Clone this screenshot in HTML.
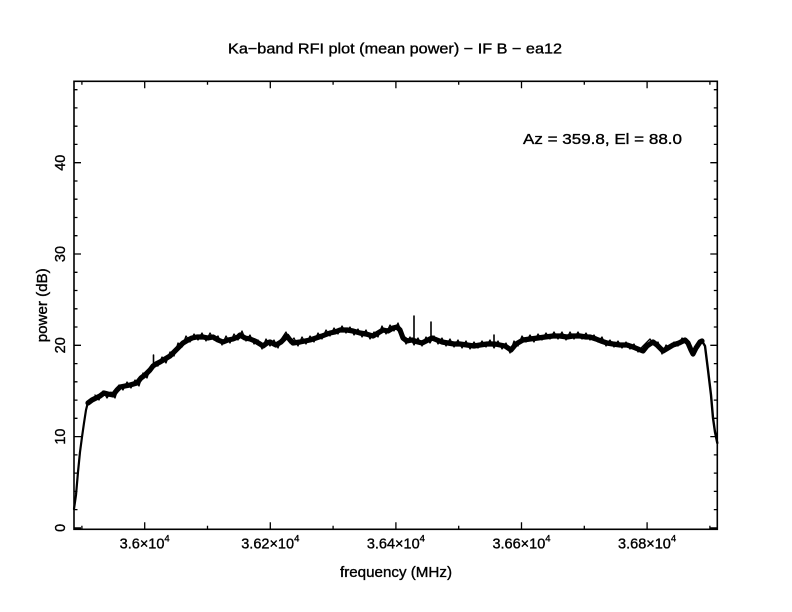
<!DOCTYPE html>
<html>
<head>
<meta charset="utf-8">
<style>
html,body{margin:0;padding:0;background:#fff;}
svg{display:block;}
text{font-family:"Liberation Sans",sans-serif;fill:#000;stroke:#000;stroke-width:0.35;}
</style>
</head>
<body>
<svg width="792" height="612" viewBox="0 0 792 612" xmlns="http://www.w3.org/2000/svg">
<rect x="0" y="0" width="792" height="612" fill="#fff"/>

<!-- title -->
<text x="228" y="53.5" font-size="14.5" textLength="334" lengthAdjust="spacingAndGlyphs">Ka−band RFI plot (mean power) − IF B − ea12</text>

<!-- annotation -->
<text x="523" y="144" font-size="14.5" textLength="159" lengthAdjust="spacingAndGlyphs">Az = 359.8, El = 88.0</text>

<!-- frame -->
<rect x="74" y="81.3" width="643.3" height="448" fill="none" stroke="#000" stroke-width="1.6"/>

<g stroke="#000" stroke-width="1.3">
<path d="M144.7 529.3v-7 M270.3 529.3v-7 M395.9 529.3v-7 M521.5 529.3v-7 M647.1 529.3v-7
M144.7 81.3v7 M270.3 81.3v7 M395.9 81.3v7 M521.5 81.3v7 M647.1 81.3v7"/>
<path d="M81.9 529.3v-3.5 M207.5 529.3v-3.5 M333.1 529.3v-3.5 M458.7 529.3v-3.5 M584.3 529.3v-3.5 M709.9 529.3v-3.5
M81.9 81.3v3.5 M207.5 81.3v3.5 M333.1 81.3v3.5 M458.7 81.3v3.5 M584.3 81.3v3.5 M709.9 81.3v3.5"/>
<path d="M74 527.9h7 M74 436.6h7 M74 345.3h7 M74 254h7 M74 162.7h7
M717.3 527.9h-7 M717.3 436.6h-7 M717.3 345.3h-7 M717.3 254h-7 M717.3 162.7h-7"/>
<path d="M74 509.6h3.5 M74 491.4h3.5 M74 473.1h3.5 M74 454.9h3.5 M74 418.3h3.5 M74 400.1h3.5 M74 381.8h3.5 M74 363.6h3.5 M74 327h3.5 M74 308.8h3.5 M74 290.5h3.5 M74 272.3h3.5 M74 235.7h3.5 M74 217.5h3.5 M74 199.2h3.5 M74 181h3.5 M74 144.4h3.5 M74 126.2h3.5 M74 107.9h3.5 M74 89.7h3.5
M717.3 509.6h-3.5 M717.3 491.4h-3.5 M717.3 473.1h-3.5 M717.3 454.9h-3.5 M717.3 418.3h-3.5 M717.3 400.1h-3.5 M717.3 381.8h-3.5 M717.3 363.6h-3.5 M717.3 327h-3.5 M717.3 308.8h-3.5 M717.3 290.5h-3.5 M717.3 272.3h-3.5 M717.3 235.7h-3.5 M717.3 217.5h-3.5 M717.3 199.2h-3.5 M717.3 181h-3.5 M717.3 144.4h-3.5 M717.3 126.2h-3.5 M717.3 107.9h-3.5 M717.3 89.7h-3.5"/>
</g>

<g font-size="14.5" text-anchor="middle">
<text x="144.7" y="548.5">3.6×10<tspan font-size="9.5" dy="-7">4</tspan></text>
<text x="270.3" y="548.5">3.62×10<tspan font-size="9.5" dy="-7">4</tspan></text>
<text x="395.9" y="548.5">3.64×10<tspan font-size="9.5" dy="-7">4</tspan></text>
<text x="521.5" y="548.5">3.66×10<tspan font-size="9.5" dy="-7">4</tspan></text>
<text x="647.1" y="548.5">3.68×10<tspan font-size="9.5" dy="-7">4</tspan></text>
</g>

<text x="340" y="577" font-size="14.5" textLength="112" lengthAdjust="spacingAndGlyphs">frequency (MHz)</text>

<g font-size="14.5" text-anchor="middle">
<text transform="translate(65,527.9) rotate(-90)">0</text>
<text transform="translate(65,436.6) rotate(-90)">10</text>
<text transform="translate(65,345.3) rotate(-90)">20</text>
<text transform="translate(65,254) rotate(-90)">30</text>
<text transform="translate(65,162.7) rotate(-90)">40</text>
</g>

<text transform="translate(47,305.3) rotate(-90)" font-size="14.5" text-anchor="middle" textLength="74" lengthAdjust="spacingAndGlyphs">power (dB)</text>

<g fill="none" stroke="#000" stroke-linejoin="round" stroke-linecap="round">
<path stroke-width="2.2" d="M74 509 L76 495 L78 472 L80 452 L82 437 L84 423 L86 410 L87.5 404 L90 401"/>
<path stroke-width="2.4" d="M702 341 L705 346 L708 370 L711 395 L713 418 L715 432 L717.3 443"/>
<path stroke-width="5.2" d="M88 403 L92 400 L96 398 L100 396 L104 393 L108 394 L113 395 L117 390 L120 387 L125 386 L130 385 L137 383 L141 378 L145 375 L150 370 L153 366 L156 364 L160 362 L165 359 L170 356 L175 351 L180 346 L183 343 L188 340 L192 338 L197 337 L203 337 L208 338 L213 337 L218 340 L223 342 L228 340 L233 339 L238 337 L240 335 L245 338 L250 339 L255 341 L260 344 L263 346 L267 343 L270 342 L276 345 L281 342 L287 336 L290 340 L293 343 L300 342 L305 341 L310 340 L316 338 L322 336 L330 333 L335 332 L340 330 L347 330 L353 331 L360 333 L366 334 L373 336 L378 333 L383 330 L388 331 L393 328 L397 327 L400 330 L403 338 L407 341 L412 340 L418 342 L422 343 L426 341 L432 338 L437 340 L442 342 L448 343 L454 344 L460 344 L467 345 L474 346 L480 345 L487 344 L495 344 L500 345 L505 346 L511 350 L516 344 L523 340 L530 339 L538 338 L545 337 L553 336 L560 336 L567 337 L573 336 L580 336 L586 337 L590 337 L596 339 L601 341 L607 343 L613 344 L620 345 L627 345 L633 347 L638 349 L643 351 L647 346 L653 342 L657 345 L663 351 L668 348 L673 345 L679 343 L685 340 L688 343 L691 350 L693 354 L696 348 L700 342 L702 341"/>
<path stroke-width="1.3" d="M95 395 L99 400 L103 391 L107 398 L111 392 L115 398 L119 385 L123 390 L127 382 L131 388 L135 380 L139 386 L143 373 L147 378 L151 366 L158 366 L162 357 L166 363 L170 352 L174 356 L178 343 L182 347 L186 336 L190 342 L194 334 L198 340 L202 333 L206 341 L210 333 L214 340 L218 336 L222 345 L226 336 L230 343 L234 334 L238 340 L242 331 L246 341 L250 335 L254 344 L258 340 L262 349 L266 339 L270 346 L274 340 L278 348 L282 338 L286 332 L290 343 L294 338 L298 346 L302 337 L306 344 L310 336 L314 342 L318 333 L322 339 L326 330 L330 336 L334 328 L338 334 L342 326 L346 333 L350 327 L354 335 L358 329 L362 337 L366 330 L370 339 L374 332 L378 337 L382 326 L386 334 L390 325 L394 331 L398 323 L402 334 L406 344 L410 337 L414 345 L418 338 L422 346 L426 337 L430 343 L434 336 L438 344 L442 338 L446 346 L450 339 L454 347 L458 340 L462 348 L466 341 L470 349 L474 342 L478 348 L482 341 L486 347 L490 340 L494 348 L498 341 L502 349 L506 343 L510 353 L514 341 L518 346 L522 336 L526 342 L530 335 L534 342 L538 334 L542 340 L546 333 L550 339 L554 332 L558 339 L562 332 L566 340 L570 332 L574 339 L578 332 L582 339 L586 333 L590 340 L594 335 L598 342 L602 337 L606 346 L610 340 L614 347 L618 341 L622 348 L626 342 L630 349 L634 344 L638 352 L642 347 L646 343 L650 339 L654 345 L658 342 L662 354 L666 345 L670 348 L674 342 L678 346 L682 338 L686 342"/>
<path stroke-width="1.6" d="M153.5 368 L153.5 355 M414 340 L414 316 M431 340 L431 322 M494 345 L494 335"/>
</g>
</svg>
</body>
</html>
